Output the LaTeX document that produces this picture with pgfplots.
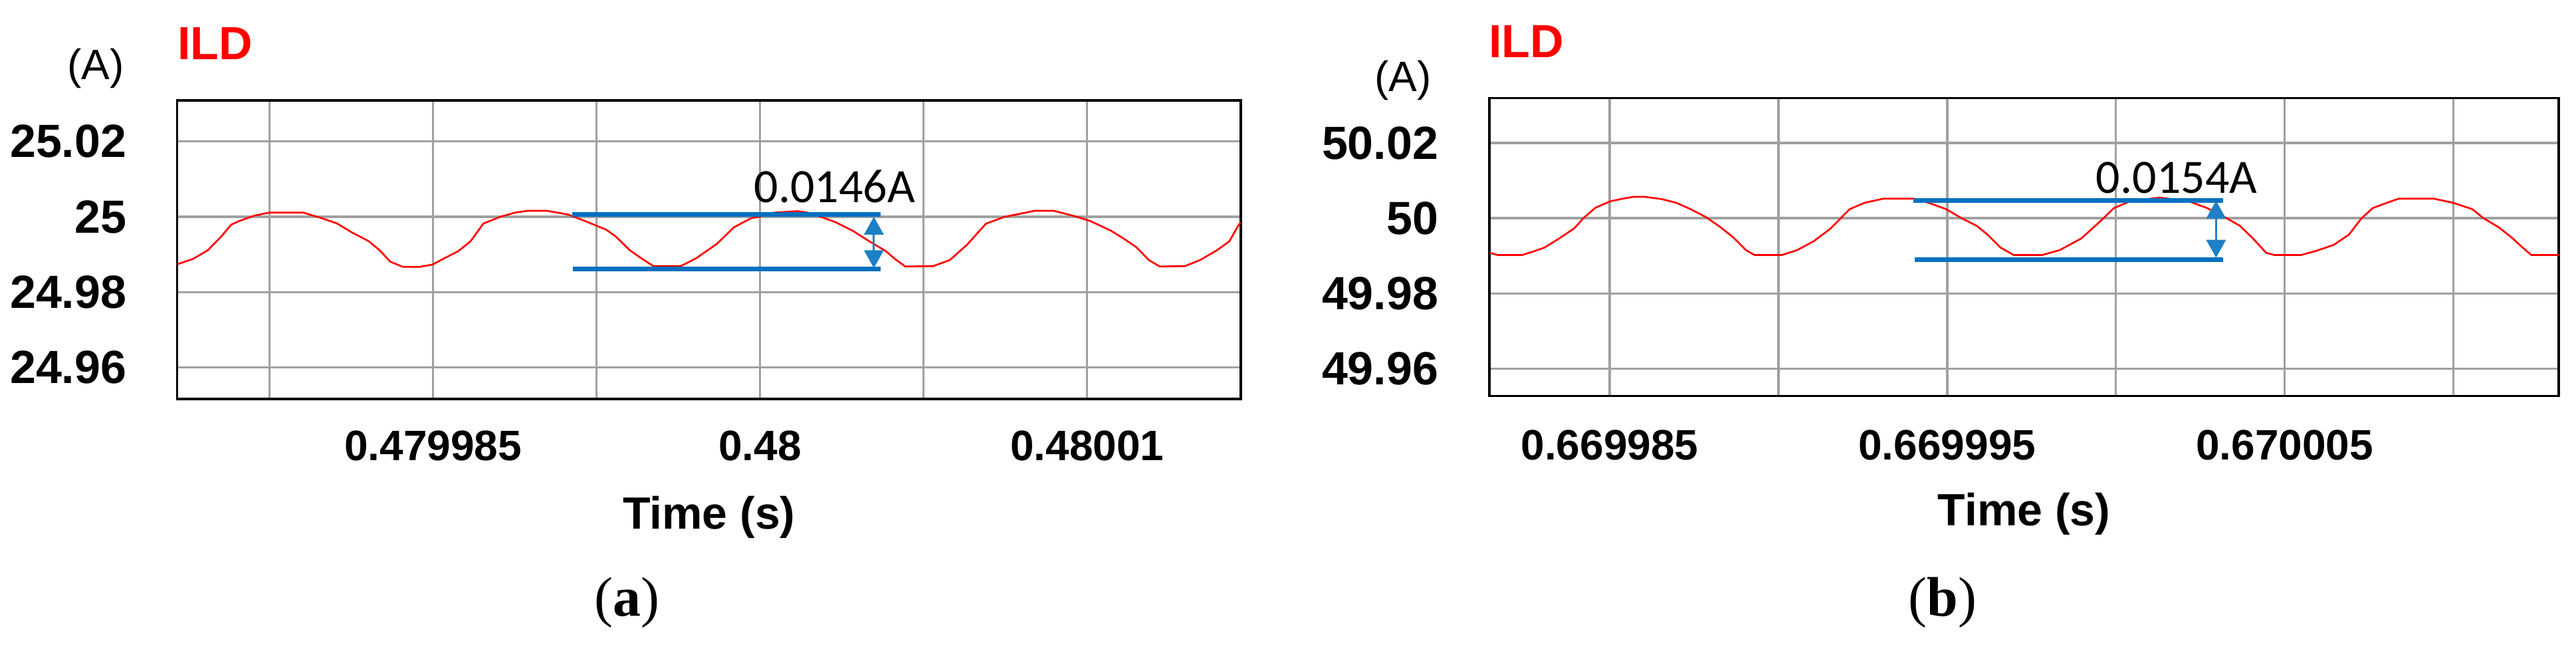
\documentclass[border=0pt]{standalone}
\usepackage{fontspec}
\setmainfont{Liberation Sans}
\newfontfamily\calibri{Carlito}
\newfontfamily\capserif{Liberation Serif}
\usepackage{pgfplots}
\pgfplotsset{compat=1.18}
\usetikzlibrary{arrows.meta}

\definecolor{gridgray}{RGB}{160,160,160}
\definecolor{lineblue}{RGB}{0,112,192}
\definecolor{arrowblue}{RGB}{29,128,196}

% shared look of both PSIM-style panels
\pgfplotsset{
  ildaxis/.style={
    scale only axis, anchor=south west,
    axis line style={black,line width=0.8pt},
    grid=major, major grid style={gridgray,line width=0.85pt},
    tick style={draw=none},
    scaled ticks=false,
    yticklabel style={font=\bfseries\fontsize{17.5pt}{20pt}\selectfont,anchor=east,inner sep=0pt},
    xticklabel style={font=\bfseries\fontsize{16pt}{19pt}\selectfont,anchor=base,inner sep=0pt},
    every axis title/.style={font=\bfseries\fontsize{17.5pt}{20pt}\selectfont,text=red,
      anchor=base west,inner sep=0pt,at={(axis description cs:0,1)}},
    every axis y label/.style={font=\fontsize{16pt}{19pt}\selectfont,
      anchor=base,inner sep=0pt,at={(axis description cs:0,1)}},
    every axis x label/.style={font=\bfseries\fontsize{17pt}{20pt}\selectfont,
      anchor=base,inner sep=0pt,at={(axis description cs:0.5,0)}},
    title={ILD}, ylabel={(A)}, xlabel={Time (s)},
    ripple/.style={red,line width=0.67pt,mark=none},
    bar/.style={lineblue,line width=1.83pt,mark=none},
    span/.style={arrowblue,line width=0.7pt,mark=none,>={Triangle[width=7.3pt,length=6.7pt]},<->},
  }
}

\begin{document}
\begin{tikzpicture}
\path[use as bounding box] (0,0) rectangle (969pt,242.5pt);

% (a) time in us relative to 0.48 s
\begin{axis}[ildaxis,
  at={(66.675pt,92.5pt)}, width=400.075pt, height=112.25pt,
  xmin=-17.82, xmax=14.70, ymin=24.95165, ymax=25.03089,
  xtick={-15,-10,-5,0,5,10}, xticklabels={,0.479985,,0.48,,0.48001},
  ytick={24.96,24.98,25,25.02}, yticklabels={24.96,24.98,25,25.02},
  yticklabel style={xshift=-18.9pt}, xticklabel style={yshift=-23.2pt},
  xlabel style={yshift=-48.9pt}, ylabel style={xshift=-30.7pt,yshift=7.75pt},
  title style={yshift=15.25pt}]
\addplot[ripple] coordinates {
(-17.82,24.9874) (-17.34,24.9888) (-16.89,24.9911) (-16.50,24.9945) (-16.17,24.9979)
(-15.92,24.9989) (-15.46,25.0003) (-15.01,25.0011) (-13.97,25.0011) (-13.39,24.9996)
(-12.93,24.9982) (-12.49,24.9959) (-11.96,24.9935) (-11.63,24.9911) (-11.31,24.9881)
(-10.92,24.9867) (-10.41,24.9867) (-10.02,24.9873) (-9.63,24.9891) (-9.24,24.9908)
(-8.85,24.9935) (-8.46,24.9982) (-7.94,25.0000) (-7.49,25.0011) (-7.10,25.0016)
(-6.52,25.0016) (-5.87,25.0006) (-5.36,24.9989) (-4.71,24.9966) (-4.43,24.9949)
(-3.98,24.9911) (-3.65,24.9891) (-3.26,24.9869) (-2.43,24.9869) (-1.97,24.9889)
(-1.32,24.9928) (-0.80,24.9972) (-0.28,24.9996) (-0.03,25.0000) (0.43,25.0011)
(1.15,25.0015) (1.45,25.0011) (1.85,25.0000) (2.30,24.9986) (2.83,24.9963)
(3.34,24.9935) (3.86,24.9908) (4.11,24.9889) (4.44,24.9868) (5.29,24.9869)
(5.80,24.9885) (6.33,24.9926) (6.91,24.9982) (7.48,25.0000) (8.01,25.0009)
(8.40,25.0016) (8.98,25.0016) (9.56,25.0003) (10.09,24.9989) (10.73,24.9963)
(11.12,24.9942) (11.51,24.9919) (11.89,24.9885) (12.22,24.9868) (12.99,24.9869)
(13.45,24.9885) (13.97,24.9911) (14.35,24.9935) (14.62,24.9976) (14.70,24.9985)
};
\addplot[bar] coordinates {(-5.74,25.00067) (3.686,25.00067)};
\addplot[bar] coordinates {(-5.72,24.98612) (3.686,24.98612)};
\addplot[span] coordinates {(3.48,25.0000) (3.48,24.98638)};
\node[anchor=base west,inner sep=0pt,font=\calibri\fontsize{18pt}{21pt}\selectfont]
  at (axis cs:-0.195,25.00385) {0.0146A};
\end{axis}

% (b) time in us relative to 0.669995 s
\begin{axis}[ildaxis,
  at={(560.25pt,93.675pt)}, width=402.25pt, height=111.98pt,
  xmin=-13.565, xmax=18.12, ymin=49.95277, ymax=50.03197,
  xtick={-10,-5,0,5,10,15}, xticklabels={0.669985,,0.669995,,0.670005,},
  ytick={49.96,49.98,50,50.02}, yticklabels={49.96,49.98,50,50.02},
  yticklabel style={xshift=-19pt}, xticklabel style={yshift=-24.1pt},
  xlabel style={yshift=-48.7pt}, ylabel style={xshift=-32.5pt,yshift=2.4pt},
  title style={yshift=15.3pt,xshift=-0.4pt}]
\addplot[ripple] coordinates {
(-13.565,49.9908) (-13.31,49.9902) (-12.60,49.9902) (-12.245,49.9912) (-11.93,49.9922)
(-11.50,49.9946) (-11.05,49.9973) (-10.77,50.0001) (-10.42,50.0028) (-9.98,50.0045)
(-9.665,50.0051) (-9.29,50.0057) (-8.98,50.0057) (-8.47,50.0051) (-8.03,50.0041)
(-7.60,50.0024) (-7.15,50.0003) (-6.715,49.9976) (-6.34,49.9949) (-5.96,49.9915)
(-5.71,49.9902) (-4.90,49.9902) (-4.45,49.9915) (-3.95,49.9939) (-3.45,49.9973)
(-2.89,50.0024) (-2.45,50.0041) (-1.89,50.0052) (-1.00,50.0052) (-0.55,50.0041)
(-0.03,50.0024) (0.425,50.0000) (0.87,49.9980) (1.20,49.9956) (1.58,49.9922)
(1.97,49.9902) (2.81,49.9902) (3.33,49.9915) (3.97,49.9946) (4.55,49.9993)
(4.94,50.0027) (5.39,50.0044) (6.29,50.0055) (7.19,50.0044) (7.70,50.0027)
(8.22,50.0003) (8.67,49.9980) (9.06,49.9946) (9.45,49.9908) (9.70,49.9902)
(10.48,49.9902) (10.93,49.9913) (11.45,49.9929) (11.90,49.9956) (12.28,50.0000)
(12.61,50.0027) (13.06,50.0042) (13.38,50.0052) (14.41,50.0052) (14.99,50.0041)
(15.56,50.0024) (15.89,50.0000) (16.34,49.9976) (16.72,49.9949) (17.05,49.9922)
(17.31,49.9902) (18.12,49.9902)
};
\addplot[bar] coordinates {(-1.00,50.00473) (8.177,50.00473)};
\addplot[bar] coordinates {(-0.96,49.98903) (8.177,49.98903)};
\addplot[span] coordinates {(7.966,50.00466) (7.966,49.9895)};
\node[anchor=base west,inner sep=0pt,font=\calibri\fontsize{18pt}{21pt}\selectfont]
  at (axis cs:4.395,50.006726) {0.0154A};
\end{axis}

\node[anchor=base,inner sep=0pt,font=\capserif\fontsize{21pt}{24pt}\selectfont]
  at (235.75pt,10.8pt) {(\textbf{a})};
\node[anchor=base,inner sep=0pt,font=\capserif\fontsize{21pt}{24pt}\selectfont]
  at (730.75pt,10.8pt) {(\textbf{b})};
\end{tikzpicture}
\end{document}
